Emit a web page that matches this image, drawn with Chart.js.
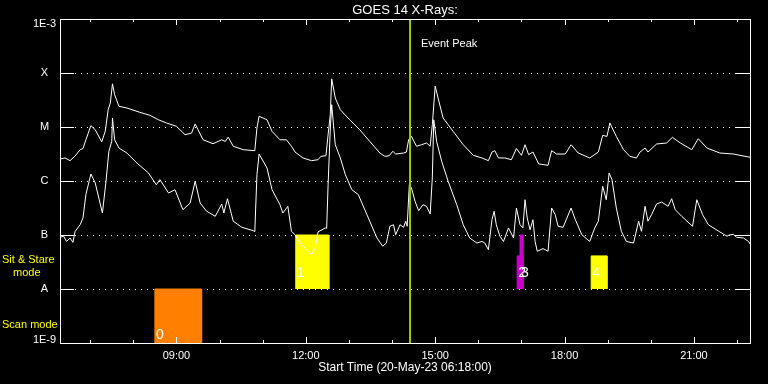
<!DOCTYPE html>
<html>
<head>
<meta charset="utf-8">
<title>GOES 14 X-Rays</title>
<script src="https://cdn.jsdelivr.net/npm/chart.js@4.4.1/dist/chart.umd.min.js"></script>
<style>
  html, body { margin: 0; padding: 0; background: #000; }
  #wrap { width: 768px; height: 384px; }
</style>
</head>
<body>
<div id="wrap"><canvas id="goes" width="768" height="384"></canvas></div>
<script>
// GOES 14 X-ray flux, 1-8 A (upper curve)
const longTimes = [
  '06:18','06:25','06:32','06:39','06:46','06:50','06:54','07:01',
  '07:07','07:16','07:21','07:25','07:28','07:31','07:34','07:40',
  '07:51','08:09','08:23','08:35','08:46','09:00','09:12','09:21',
  '09:26','09:30','09:37','09:51','10:03','10:08','10:12','10:19',
  '10:33','10:49','10:52','10:55','11:06','11:13','11:24','11:33',
  '11:40','11:45','11:56','12:08','12:17','12:21','12:28','12:31',
  '12:34','12:36','12:41','12:48','13:01','13:15','13:29','13:43',
  '13:50','13:56','14:01','14:05','14:16','14:20','14:23','14:27',
  '14:34','14:41','14:48','14:53','14:56','15:00','15:04','15:11',
  '15:25','15:39','15:53','16:05','16:14','16:19','16:23','16:28',
  '16:37','16:46','16:53','17:00','17:05','17:10','17:16','17:24',
  '17:37','17:42','17:49','18:01','18:09','18:19','18:35','18:47',
  '18:53','18:59','19:03','19:12','19:22','19:31','19:40','19:45',
  '19:52','19:56','20:08','20:22','20:30','20:41','20:57','21:06',
  '21:18','21:36','21:55','22:04','22:18'
];
const longFlux = [
  2.55e-6, 2.67e-6, 2.38e-6, 2.9e-6, 3.8e-6, 4.0e-6, 5.8e-6, 1.06e-5,
  8.9e-6, 5.3e-6, 8.4e-6, 2.09e-5, 2.78e-5, 6.3e-5, 3.96e-5, 2.42e-5,
  2.25e-5, 1.87e-5, 1.65e-5, 1.36e-5, 1.19e-5, 1.03e-5, 7.2e-6, 7.7e-6,
  1.14e-5, 8.9e-6, 5.8e-6, 4.9e-6, 5.8e-6, 5.4e-6, 6.5e-6, 4.4e-6,
  3.8e-6, 3.64e-6, 9.6e-6, 1.58e-5, 1.36e-5, 8.3e-6, 5.8e-6, 5.8e-6,
  4.4e-6, 3.44e-6, 2.67e-6, 2.38e-6, 2.48e-6, 2.86e-6, 2.94e-6, 7.2e-6,
  1.69e-5, 7.8e-5, 3.44e-5, 2.09e-5, 1.36e-5, 8.9e-6, 5.4e-6, 3.3e-6,
  2.86e-6, 2.94e-6, 3.55e-6, 3.16e-6, 3.3e-6, 3.44e-6, 5.8e-6, 6.7e-6,
  4.4e-6, 4.7e-6, 5.06e-6, 4.4e-6, 1.1e-5, 5.7e-5, 3.44e-5, 1.47e-5,
  8.3e-6, 4.7e-6, 2.99e-6, 2.67e-6, 2.38e-6, 3.44e-6, 3.64e-6, 2.67e-6,
  2.67e-6, 2.48e-6, 4.0e-6, 2.99e-6, 4.7e-6, 3.07e-6, 3.44e-6, 2.07e-6,
  1.95e-6, 3.64e-6, 3.16e-6, 3.16e-6, 4.7e-6, 3.3e-6, 2.67e-6, 3.44e-6,
  7.0e-6, 6.7e-6, 1.19e-5, 6.7e-6, 3.8e-6, 2.86e-6, 2.67e-6, 3.44e-6,
  4.08e-6, 3.44e-6, 4.84e-6, 5.06e-6, 6.44e-6, 5.06e-6, 3.8e-6, 6.07e-6,
  4.08e-6, 3.3e-6, 3.16e-6, 2.99e-6, 2.75e-6
];

// GOES 14 X-ray flux, 0.5-4 A (lower curve)
const shortTimes = [
  '06:18','06:23','06:27','06:32','06:36','06:39','06:46','06:50',
  '06:54','07:01','07:07','07:17','07:22','07:26','07:30','07:31',
  '07:34','07:40','07:51','08:05','08:21','08:32','08:37','08:49',
  '08:58','09:09','09:19','09:26','09:33','09:42','09:54','10:03',
  '10:06','10:11','10:19','10:31','10:47','10:49','10:52','10:55',
  '11:06','11:13','11:24','11:28','11:35','11:40','11:45','11:52',
  '12:01','12:08','12:13','12:17','12:27','12:29','12:31','12:34',
  '12:36','12:41','12:48','12:55','13:04','13:13','13:25','13:39',
  '13:47','13:52','13:57','14:02','14:05','14:11','14:16','14:19',
  '14:21','14:24','14:27','14:32','14:37','14:43','14:48','14:53',
  '14:56','14:58','15:02','15:09','15:18','15:30','15:39','15:48',
  '15:58','16:05','16:09','16:14','16:19','16:22','16:25','16:30',
  '16:35','16:42','16:49','16:53','16:58','17:02','17:05','17:08',
  '17:12','17:16','17:19','17:22','17:30','17:37','17:42','17:47',
  '17:51','17:58','18:09','18:15','18:24','18:35','18:42','18:47',
  '18:53','18:58','19:02','19:06','19:12','19:19','19:26','19:36',
  '19:43','19:47','19:52','19:56','20:01','20:08','20:15','20:24',
  '20:29','20:34','20:43','20:58','21:04','21:12','21:20','21:36',
  '21:46','21:49','21:55','21:59','22:09','22:16','22:18'
];
const shortFlux = [
  9.06e-8, 9.5e-8, 7.6e-8, 8.8e-8, 7.3e-8, 1.17e-7, 1.55e-7, 2.07e-7,
  5.6e-7, 1.35e-6, 9.2e-7, 2.55e-7, 9.9e-7, 3.55e-6, 5.4e-6, 1.47e-5,
  5.8e-6, 4.08e-6, 3.3e-6, 2.15e-6, 1.41e-6, 8.5e-7, 1.06e-6, 6.0e-7,
  6.9e-7, 2.94e-7, 3.9e-7, 9.9e-7, 3.9e-7, 2.75e-7, 2.22e-7, 3.75e-7,
  2.55e-7, 4.7e-7, 1.8e-7, 1.39e-7, 1.2e-7, 1.15e-7, 1.31e-6, 3.16e-6,
  1.74e-6, 6.9e-7, 3.64e-7, 2.55e-7, 3.4e-7, 1.17e-7, 1.01e-7, 7.1e-8,
  5.35e-8, 4.3e-8, 5.7e-8, 1.14e-7, 1.35e-7, 1.33e-7, 8.5e-7, 8.8e-6,
  2.59e-5, 4.7e-6, 2.67e-6, 1.31e-6, 6.9e-7, 5.6e-7, 2.38e-7, 8.8e-8,
  6.2e-8, 7.1e-8, 1.45e-7, 1.55e-7, 1.01e-7, 1.55e-7, 1.39e-7, 1.8e-7,
  1.45e-7, 8.5e-7, 7.4e-7, 4.2e-7, 2.82e-7, 3.64e-7, 3.4e-7, 2.45e-7,
  1.14e-6, 1.36e-5, 5.4e-6, 2.32e-6, 9.9e-7, 3.64e-7, 1.55e-7, 8.8e-8,
  7.1e-8, 7.6e-8, 7.1e-8, 5.35e-8, 1.92e-7, 2.75e-7, 1.55e-7, 9.5e-8,
  7.6e-8, 1.35e-7, 8.8e-8, 3.16e-7, 1.55e-7, 1.35e-7, 4.5e-7, 2.07e-7,
  1.25e-7, 1.92e-7, 7.6e-8, 5.0e-8, 5.6e-8, 5.0e-8, 3.16e-7, 2.38e-7,
  1.45e-7, 1.39e-7, 3.16e-7, 1.92e-7, 1.01e-7, 7.6e-8, 1.35e-7, 1.8e-7,
  7.98e-7, 4.5e-7, 1.41e-6, 1.06e-6, 3.16e-7, 1.17e-7, 7.6e-8, 7.1e-8,
  1.8e-7, 1.17e-7, 3.4e-7, 1.8e-7, 2.38e-7, 3.75e-7, 4.08e-7, 3.4e-7,
  4.7e-7, 2.94e-7, 2.22e-7, 1.45e-7, 4.5e-7, 2.38e-7, 1.55e-7, 1.14e-7,
  9.5e-8, 1.0e-7, 1.03e-7, 9.1e-8, 8.8e-8, 7.6e-8, 6.8e-8
];

// observing modes (scan / sit & stare blocks)
const modeLabels = ['0', '1', '2', '3', '4'];
const modeStart  = ['08:30', '11:46', '16:54', '16:58', '18:37'];
const modeEnd    = ['09:35', '12:32', '17:02', '17:02', '18:59'];
const modeLow    = [1e-9, 1e-8, 1e-8, 1e-8, 1e-8];
const modeHigh   = [1e-8, 1e-7, 4.1e-8, 1e-7, 4.1e-8];

const eventPeak = '14:25';

// axes
const startLabel = 'Start Time (20-May-23 06:18:00)';
const xMin = '06:18', xMax = '22:18';
const xTickHours = [7, 8, 9, 10, 11, 12, 13, 14, 15, 16, 17, 18, 19, 20, 21, 22];
const yTickValues = [1e-9, 1e-8, 1e-7, 1e-6, 1e-5, 1e-4, 1e-3];
const yTickLabels = ['1E-9', 'A', 'B', 'C', 'M', 'X', '1E-3'];

// estilos
const WHITE = '#ffffff';
const YELLOW = '#ffff00';
const FONT = '"Liberation Sans", Arial, sans-serif';
const modeColors = ['#ff8000', '#ffff00', '#cc00cc', '#cc00cc', '#ffff00'];

const hhmm = s => { const [h, m] = s.split(':').map(Number); return h + m / 60; };
const toPoints = (times, vals) => times.map((t, i) => ({ x: hhmm(t), y: vals[i] }));

const datasets = [
  { label: '1-8 A', data: toPoints(longTimes, longFlux), borderColor: WHITE, borderWidth: 1, pointRadius: 0, tension: 0, order: 1 },
  { label: '0.5-4 A', data: toPoints(shortTimes, shortFlux), borderColor: WHITE, borderWidth: 1, pointRadius: 0, tension: 0, order: 1 },
  {
    label: 'Event Peak',
    data: [{ x: hhmm(eventPeak), y: yTickValues[0] }, { x: hhmm(eventPeak), y: yTickValues[yTickValues.length - 1] }],
    borderColor: '#99cc00', borderWidth: 2, pointRadius: 0, order: 0
  }
];
modeLabels.forEach((lab, i) => {
  const t0 = hhmm(modeStart[i]), t1 = hhmm(modeEnd[i]);
  datasets.push({
    label: 'Mode ' + lab,
    data: [{ x: t0, y: modeLow[i] }, { x: t0, y: modeHigh[i] }, { x: t1, y: modeHigh[i] }, { x: t1, y: modeLow[i] }],
    borderColor: modeColors[i], backgroundColor: modeColors[i], borderWidth: 1,
    fill: 'shape', pointRadius: 0, tension: 0, order: 2
  });
});

// grid, frame, tick marks and the extra texts
const decor = {
  id: 'decor',
  beforeDatasetsDraw(chart) {
    const { ctx, chartArea: a, scales: { y } } = chart;
    ctx.save();
    ctx.strokeStyle = WHITE;
    ctx.lineWidth = 1;
    yTickValues.slice(1, -1).forEach(v => {
      const py = Math.round(y.getPixelForValue(v)) + 0.5;
      ctx.setLineDash([1, 5]);
      ctx.beginPath();
      ctx.moveTo(a.left + 15, py);
      ctx.lineTo(a.right - 14, py);
      ctx.stroke();
      ctx.setLineDash([]);
      ctx.beginPath();
      ctx.moveTo(a.left, py); ctx.lineTo(a.left + 14, py);
      ctx.moveTo(a.right - 14, py); ctx.lineTo(a.right, py);
      ctx.stroke();
    });
    ctx.restore();
  },
  afterDraw(chart) {
    const { ctx, chartArea: a, scales: { x, y } } = chart;
    ctx.save();
    ctx.strokeStyle = WHITE;
    ctx.lineWidth = 1;
    ctx.strokeRect(a.left + 0.5, a.top + 0.5, a.right - a.left, a.bottom - a.top);

    ctx.beginPath();
    xTickHours.forEach(h => {
      const px = Math.round(x.getPixelForValue(h)) + 0.5;
      const len = h % 3 === 0 ? 6 : 3;
      ctx.moveTo(px, a.bottom); ctx.lineTo(px, a.bottom - len);
      ctx.moveTo(px, a.top); ctx.lineTo(px, a.top + len);
    });
    ctx.stroke();

    // y labels
    ctx.fillStyle = WHITE;
    ctx.font = '11px ' + FONT;
    ctx.textAlign = 'center';
    ctx.textBaseline = 'middle';
    yTickValues.forEach((v, i) => {
      const py = Math.min(Math.max(y.getPixelForValue(v), a.top + 4.5), a.bottom - 3);
      ctx.fillText(yTickLabels[i], 44.5, py);
    });

    // title
    ctx.textBaseline = 'alphabetic';
    ctx.font = '13px ' + FONT;
    ctx.fillText('GOES 14 X-Rays:', (a.left + a.right) / 2, 14);

    // event label
    ctx.textAlign = 'left';
    ctx.font = '11px ' + FONT;
    ctx.fillText('Event Peak', x.getPixelForValue(hhmm(eventPeak)) + 11, 47);

    // mode numbers
    ctx.textAlign = 'center';
    ctx.font = '14px ' + FONT;
    modeLabels.forEach((lab, i) => {
      const px = x.getPixelForValue(hhmm(modeStart[i])) + 5;
      const py = modeLow[i] <= yTickValues[0] ? a.bottom - 4.5 : y.getPixelForValue(1e-8) - 12;
      ctx.fillText(lab, px, py);
    });

    // mode legend on the left
    ctx.textAlign = 'left';
    ctx.fillStyle = YELLOW;
    ctx.font = '11px ' + FONT;
    ctx.fillText('Sit & Stare', 2, 263);
    ctx.fillText('mode', 13, 275.5);
    ctx.fillText('Scan mode', 2, 328);
    ctx.restore();
  }
};

new Chart(document.getElementById('goes').getContext('2d'), {
  type: 'line',
  data: { datasets },
  options: {
    responsive: false,
    animation: false,
    devicePixelRatio: 1,
    layout: { padding: { left: 60, right: 18, top: 19, bottom: 0 } },
    plugins: { legend: { display: false }, tooltip: { enabled: false }, title: { display: false } },
    scales: {
      x: {
        type: 'linear',
        min: hhmm(xMin),
        max: hhmm(xMax),
        afterBuildTicks: s => { s.ticks = xTickHours.map(v => ({ value: v })); },
        afterFit: s => { s.height = 41; },
        grid: { display: false, drawTicks: false },
        border: { display: false },
        ticks: {
          color: WHITE,
          font: { family: FONT, size: 11 },
          padding: 6,
          autoSkip: false,
          maxRotation: 0,
          callback: v => (v % 3 === 0 ? String(v).padStart(2, '0') + ':00' : '')
        },
        title: {
          display: true,
          text: startLabel,
          color: WHITE,
          font: { family: FONT, size: 12 },
          padding: { top: 0, bottom: 9 }
        }
      },
      y: {
        type: 'logarithmic',
        min: yTickValues[0],
        max: yTickValues[yTickValues.length - 1],
        display: false
      }
    }
  },
  plugins: [decor]
});
</script>
</body>
</html>
